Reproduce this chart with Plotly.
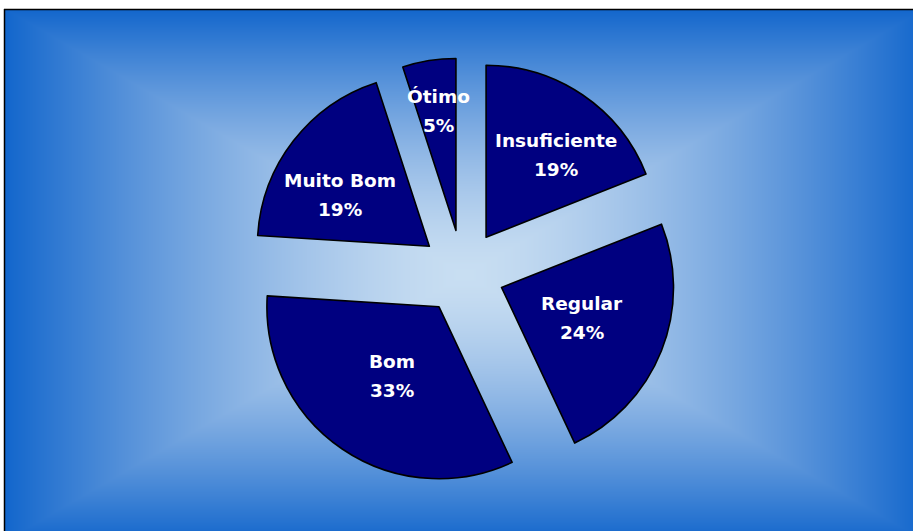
import base64, struct, zlib, math
import numpy as np
import plotly.graph_objects as go

# ---- data ----
categories = ["Insuficiente", "Regular", "Bom", "Muito Bom", "Ótimo"]
percents = [19, 24, 33, 19, 5]

# ---- style ----
W, H = 913, 531
slice_color = "#000080"
edge_rgb = np.array([18, 102, 204], dtype=float)
center_rgb = np.array([200, 222, 242], dtype=float)
grad_power = np.array([1.5, 1.45, 1.4])
pull = 0.244
pie_cx, pie_cy = 462.5, 272.0          # pixel centre of the pie
pie_r = 172.0                           # slice radius in pixels
label_frac = [0.63, 0.50, 0.49, 0.60, 0.70]   # label radius as fraction of r
label_dang = [4.4, -0.6, 0.0, -5.6, 0.6]       # small angular tweaks (deg)
font_family = "DejaVu Sans"

# ---- background gradient (rectangular, from centre) ----
area_x0, area_y0 = 5, 9
area_x1, area_y1 = 925, 541
gcx, gcy = (area_x0 + area_x1) / 2, (area_y0 + area_y1) / 2
hw, hh = (area_x1 - area_x0) / 2, (area_y1 - area_y0) / 2
iw, ih = W - area_x0, H - area_y0
xs = np.arange(area_x0, W) + 0.5
ys = np.arange(area_y0, H) + 0.5
X, Y = np.meshgrid(xs, ys)
t = np.maximum(np.abs(X - gcx) / hw, np.abs(Y - gcy) / hh).clip(0, 1)
tp = t[..., None] ** grad_power[None, None, :]
img = center_rgb[None, None, :] * (1 - tp) + edge_rgb[None, None, :] * tp
img = img.round().astype(np.uint8)


def png_bytes(arr):
    h, w, _ = arr.shape
    raw = b"".join(b"\x00" + arr[i].tobytes() for i in range(h))

    def chunk(tag, data):
        c = struct.pack(">I", len(data)) + tag + data
        return c + struct.pack(">I", zlib.crc32(tag + data) & 0xFFFFFFFF)

    return (b"\x89PNG\r\n\x1a\n"
            + chunk(b"IHDR", struct.pack(">IIBBBBB", w, h, 8, 2, 0, 0, 0))
            + chunk(b"IDAT", zlib.compress(raw, 9))
            + chunk(b"IEND", b""))


src = "data:image/png;base64," + base64.b64encode(png_bytes(img)).decode()

# ---- pie domain ----
R_total = pie_r * (1 + pull)
dom_x = [(pie_cx - R_total - 40) / W, (pie_cx + R_total + 40) / W]
dom_y = [1 - (pie_cy + R_total) / H, 1 - (pie_cy - R_total) / H]

fig = go.Figure(go.Pie(
    labels=categories,
    values=percents,
    sort=False,
    direction="clockwise",
    rotation=0,
    pull=[pull] * len(percents),
    marker=dict(colors=[slice_color] * len(percents), line=dict(color="black", width=1.6)),
    textinfo="none",
    hoverinfo="label+percent",
    showlegend=False,
    domain=dict(x=dom_x, y=dom_y),
))

# ---- labels ----
annotations = []
cum = 0.0
explode_px = pull * pie_r
for i, (name, v) in enumerate(zip(categories, percents)):
    mid = (cum + v / 2) / sum(percents) * 360 + label_dang[i]
    cum += v
    D = explode_px + label_frac[i] * pie_r
    px = pie_cx + D * math.sin(math.radians(mid))
    py = pie_cy - D * math.cos(math.radians(mid))
    for txt, shift in ((name, 14.5), (f"{v}%", -14.5)):
        annotations.append(dict(
            x=px / W, y=1 - py / H, xref="paper", yref="paper",
            text=txt, showarrow=False, yshift=shift,
            xanchor="center", yanchor="middle",
            font=dict(family=font_family, size=18.5, color="white", weight="bold"),
        ))

fig.update_layout(
    width=W, height=H,
    margin=dict(l=0, r=0, t=0, b=0),
    paper_bgcolor="white",
    plot_bgcolor="rgba(0,0,0,0)",
    annotations=annotations,
    images=[dict(source=src, xref="paper", yref="paper",
                 x=area_x0 / W, y=1 - area_y0 / H,
                 sizex=iw / W, sizey=ih / H,
                 xanchor="left", yanchor="top",
                 sizing="stretch", layer="below")],
    shapes=[
        dict(type="line", xref="paper", yref="paper",
             x0=4 / W, x1=1, y0=1 - 9.5 / H, y1=1 - 9.5 / H,
             line=dict(color="black", width=1.5), layer="above"),
        dict(type="line", xref="paper", yref="paper",
             x0=4.5 / W, x1=4.5 / W, y0=0, y1=1 - 9 / H,
             line=dict(color="black", width=1.5), layer="above"),
    ],
)

fig.write_html(
    "out.html",
    config={"displayModeBar": False},
    post_script="document.body.style.margin='0';document.body.style.overflow='hidden';",
)
